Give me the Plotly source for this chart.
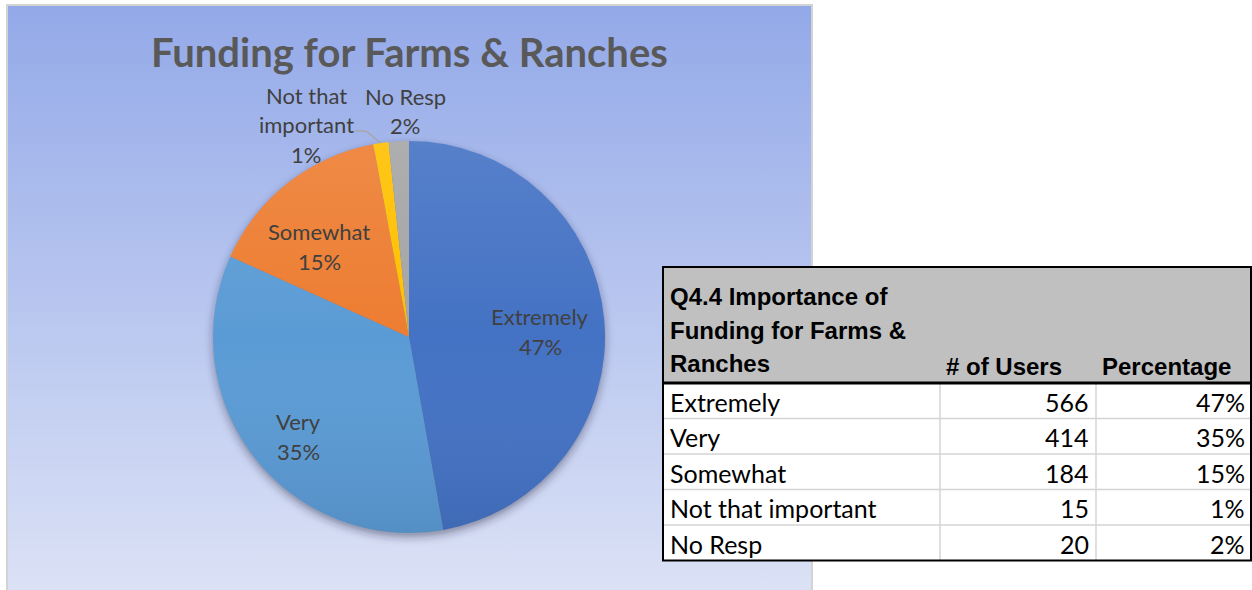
import base64
import math
import plotly.graph_objects as go

# Survey data: Q4.4 importance of funding for farms & ranches
categories = ["Extremely", "Very", "Somewhat", "Not that important", "No Resp"]
users = [566, 414, 184, 15, 20]
header_title = ["Q4.4 Importance of", "Funding for Farms &", "Ranches"]
header_cols = ["# of Users", "Percentage"]
chart_title = "Funding for Farms & Ranches"

total = sum(users)
pct = [round(100 * v / total) for v in users]

# Canvas geometry (pixels)
W, H = 1252, 590
CX, CY, R = 409, 337, 196

slice_colors = ["#4472C4", "#5B9BD5", "#ED7D31", "#FFC000", "#A5A5A5"]
label_color = "#404040"
body_font = "Lato, 'Open Sans', sans-serif"
head_font = "'Liberation Sans', Arial, sans-serif"


def px(x):
    return x / W


def py(y):
    return 1 - y / H


# Decorative backdrop: gradient panel with border and a soft shadow under the pie
svg = f"""<svg xmlns='http://www.w3.org/2000/svg' width='{W}' height='{H}' viewBox='0 0 {W} {H}'>
<defs>
<linearGradient id='bg' x1='0' y1='0' x2='0' y2='1'>
<stop offset='0' stop-color='#93A9E8'/>
<stop offset='1' stop-color='#DDE3F6'/>
</linearGradient>
<filter id='blur' x='-20%' y='-20%' width='140%' height='140%'>
<feGaussianBlur stdDeviation='4'/>
</filter>
</defs>
<rect x='7' y='5' width='805' height='600' fill='url(#bg)' stroke='#D3D3D3' stroke-width='2'/>
<circle cx='{CX}' cy='{CY + 4}' r='{R}' fill='rgba(40,40,60,0.45)' filter='url(#blur)'/>
</svg>"""
svg_uri = "data:image/svg+xml;base64," + base64.b64encode(svg.encode()).decode()

# Subtle top-light / bottom-dark sheen laid over the pie disc
sheen = f"""<svg xmlns='http://www.w3.org/2000/svg' width='{W}' height='{H}' viewBox='0 0 {W} {H}'>
<defs>
<linearGradient id='sh' x1='0' y1='0' x2='0' y2='1'>
<stop offset='0' stop-color='#FFFFFF' stop-opacity='0.10'/>
<stop offset='0.5' stop-color='#FFFFFF' stop-opacity='0'/>
<stop offset='1' stop-color='#000000' stop-opacity='0.08'/>
</linearGradient>
</defs>
<circle cx='{CX}' cy='{CY}' r='{R}' fill='url(#sh)'/>
</svg>"""
sheen_uri = "data:image/svg+xml;base64," + base64.b64encode(sheen.encode()).decode()

fig = go.Figure()

fig.add_trace(go.Pie(
    labels=categories,
    values=users,
    sort=False,
    direction="clockwise",
    rotation=0,
    marker=dict(colors=slice_colors, line=dict(width=0)),
    textinfo="none",
    hoverinfo="label+value+percent",
    showlegend=False,
    domain=dict(x=[px(CX - R), px(CX + R)], y=[py(CY + R), py(CY - R)]),
))

annotations = []
shapes = []

# Title
annotations.append(dict(
    x=px(409), y=py(52), xref="paper", yref="paper", showarrow=False,
    text=f"<b>{chart_title}</b>", font=dict(family=body_font, size=40, color="#595959"),
    xanchor="center", yanchor="middle",
))

# Slice mid-angles (degrees clockwise from 12 o'clock)
mids = []
acc = 0
for v in users:
    mids.append(360 * (acc + v / 2) / total)
    acc += v

# Inside labels: radial fraction and small angular nudge per slice
inside_place = {0: (0.67, 2.5), 1: (0.76, -4.0), 2: (0.65, -6.5)}
line_gap = 30
for i, (rf, nudge) in inside_place.items():
    th = math.radians(mids[i] + nudge)
    lx = CX + rf * R * math.sin(th)
    ly = CY - rf * R * math.cos(th)
    for k, txt in enumerate([categories[i], f"{pct[i]}%"]):
        annotations.append(dict(
            x=px(lx), y=py(ly + (k - 0.5) * line_gap), xref="paper", yref="paper",
            showarrow=False, text=txt, xanchor="center", yanchor="middle",
            font=dict(family=body_font, size=22, color=label_color),
        ))

# Outside labels
outside_lines = {
    3: (306, 95, ["Not that", "important", f"{pct[3]}%"]),
    4: (405, 96, [categories[4], f"{pct[4]}%"]),
}
for i, (lx, ly0, lines) in outside_lines.items():
    for k, txt in enumerate(lines):
        annotations.append(dict(
            x=px(lx), y=py(ly0 + k * 29.5), xref="paper", yref="paper",
            showarrow=False, text=txt, xanchor="center", yanchor="middle",
            font=dict(family=body_font, size=22, color=label_color),
        ))

# Leader line from the small slice's outer edge to its label
th = math.radians(mids[3])
ex = CX + R * math.sin(th)
ey = CY - R * math.cos(th)
shapes.append(dict(
    type="path", xref="paper", yref="paper",
    path=f"M {px(355)},{py(131)} L {px(366)},{py(131)} L {px(ex)},{py(ey)}",
    line=dict(color="#A6A6A6", width=1.5),
))

# Table
TX = [663, 940, 1096, 1251]
T_TOP, H_BOT = 267, 383
ROW_H = 35.5
n = len(categories)
T_BOT = H_BOT + n * ROW_H

shapes.append(dict(type="rect", xref="paper", yref="paper",
                   x0=px(TX[0]), x1=px(TX[-1]), y0=py(T_BOT), y1=py(H_BOT),
                   fillcolor="white", line=dict(width=0), layer="above"))
shapes.append(dict(type="rect", xref="paper", yref="paper",
                   x0=px(TX[0]), x1=px(TX[-1]), y0=py(H_BOT), y1=py(T_TOP),
                   fillcolor="#C0C0C0", line=dict(width=0), layer="above"))
# light grid
for r in range(1, n):
    yy = H_BOT + r * ROW_H
    shapes.append(dict(type="line", xref="paper", yref="paper",
                       x0=px(TX[0]), x1=px(TX[-1]), y0=py(yy), y1=py(yy),
                       line=dict(color="#D4D4D4", width=1.5), layer="above"))
for xx in TX[1:3]:
    shapes.append(dict(type="line", xref="paper", yref="paper",
                       x0=px(xx), x1=px(xx), y0=py(T_BOT), y1=py(H_BOT),
                       line=dict(color="#D4D4D4", width=1.5), layer="above"))
# header rule and outer border
shapes.append(dict(type="line", xref="paper", yref="paper",
                   x0=px(TX[0]), x1=px(TX[-1]), y0=py(H_BOT), y1=py(H_BOT),
                   line=dict(color="black", width=3), layer="above"))
shapes.append(dict(type="rect", xref="paper", yref="paper",
                   x0=px(TX[0]), x1=px(TX[-1]), y0=py(T_BOT), y1=py(T_TOP),
                   line=dict(color="black", width=2), layer="above"))

# header text
for k, txt in enumerate(header_title):
    annotations.append(dict(
        x=px(TX[0] + 5), y=py(297 + k * 33), xref="paper", yref="paper",
        showarrow=False, text=f"<b>{txt}</b>", xanchor="left", yanchor="middle",
        font=dict(family=head_font, size=24, color="black"),
    ))
for j, txt in enumerate(header_cols):
    annotations.append(dict(
        x=px(TX[1 + j] + 4), y=py(366), xref="paper", yref="paper",
        showarrow=False, text=f"<b>{txt}</b>", xanchor="left", yanchor="middle",
        font=dict(family=head_font, size=24, color="black"),
    ))

# body rows
for r in range(n):
    yc = H_BOT + (r + 0.5) * ROW_H + 1
    cells = [(categories[r], TX[0] + 5, "left"),
             (str(users[r]), TX[2] - 5, "right"),
             (f"{pct[r]}%", TX[3] - 4, "right")]
    for txt, xx, anc in cells:
        annotations.append(dict(
            x=px(xx), y=py(yc), xref="paper", yref="paper",
            showarrow=False, text=txt, xanchor=anc, yanchor="middle",
            font=dict(family=body_font, size=25, color="black"),
        ))

fig.update_layout(
    width=W, height=H,
    margin=dict(l=0, r=0, t=0, b=0),
    paper_bgcolor="white",
    plot_bgcolor="white",
    images=[
        dict(source=svg_uri, xref="paper", yref="paper", x=0, y=1,
             sizex=1, sizey=1, xanchor="left", yanchor="top",
             sizing="stretch", layer="below"),
        dict(source=sheen_uri, xref="paper", yref="paper", x=0, y=1,
             sizex=1, sizey=1, xanchor="left", yanchor="top",
             sizing="stretch", layer="above"),
    ],
    shapes=shapes,
    annotations=annotations,
)

fig.write_html("out.html")
